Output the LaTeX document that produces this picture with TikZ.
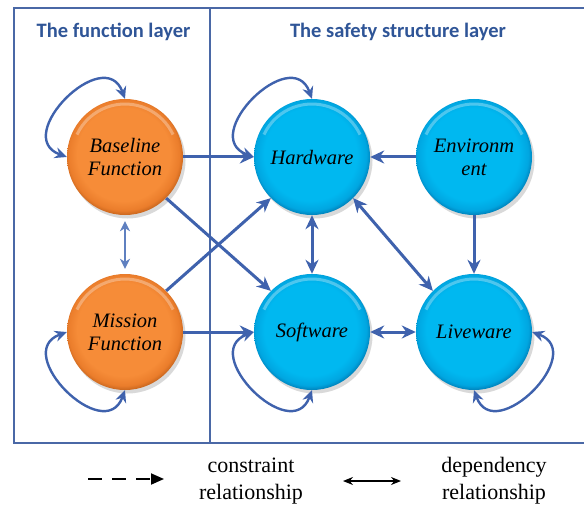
\documentclass[tikz,border=0pt]{standalone}
\usepackage{fontspec}
\setmainfont{Liberation Serif}
\newfontfamily\headfont{Carlito}
\newfontfamily\ballfont{Liberation Serif}[ItalicFont={Liberation Serif Italic}]
\usetikzlibrary{arrows.meta,shadows}

\definecolor{frameblue}{HTML}{4A68A6}
\definecolor{headblue}{HTML}{2F5597}
\definecolor{linkblue}{HTML}{3F62AD}
\definecolor{thinblue}{HTML}{5F80C0}

% button-like balls: flat face, bevelled rim, darker towards the lower right
\pgfdeclareradialshading{orangeball}{\pgfpoint{-1bp}{1.8bp}}{%
  rgb(0bp)=(0.965,0.55,0.22); rgb(20bp)=(0.965,0.55,0.22);
  rgb(24bp)=(0.92,0.49,0.17); rgb(26.5bp)=(0.74,0.37,0.10); rgb(50bp)=(0.74,0.37,0.10)}
\pgfdeclareradialshading{blueball}{\pgfpoint{-1bp}{1.8bp}}{%
  rgb(0bp)=(0.0,0.72,0.94); rgb(20bp)=(0.0,0.72,0.94);
  rgb(24bp)=(0.0,0.65,0.88); rgb(26.5bp)=(0.0,0.46,0.68); rgb(50bp)=(0.0,0.46,0.68)}

\begin{document}
\begin{tikzpicture}[x=1pt,y=-1pt,
  ball/.style={circle, minimum size=116pt, inner sep=0pt, align=center,
    font=\ballfont\itshape\fontsize{20.5}{23}\selectfont,
    drop shadow={shadow xshift=2.5pt, shadow yshift=-3.5pt, opacity=0.3},
    path picture={\draw[white, opacity=0.3, line width=3pt]
      ([shift={(155:53pt)}]path picture bounding box.center)
      arc[start angle=155, end angle=25, radius=53pt];}},
  func/.style={ball, shade, shading=orangeball},
  safe/.style={ball, shade, shading=blueball},
  tipbig/.tip={Stealth[length=14pt, width=13pt, inset=4.5pt]},
  tiploop/.tip={Stealth[length=12pt, width=11pt, inset=4pt]},
  link/.style={draw=linkblue, line width=3pt, -tipbig},
  dlink/.style={draw=linkblue, line width=3pt, tipbig-tipbig},
  thinlink/.style={draw=thinblue, line width=1.8pt,
    {Stealth[length=10pt, width=10pt, inset=3pt]}-{Stealth[length=10pt, width=10pt, inset=3pt]}},
  selfloop/.style={draw=linkblue, line width=2.4pt, tiploop-tiploop},
  frame/.style={draw=frameblue, line width=1.3pt},
  head/.style={font=\headfont\bfseries\fontsize{20.5}{24}\selectfont, text=headblue, anchor=base},
  legend/.style={font=\fontsize{22}{27}\selectfont, align=center}
]
\useasboundingbox (0,0) rectangle (584,508);

% layer frame, open on the right
\draw[frame] (584,8) -- (14,8) -- (14,443) -- (584,443);
\draw[frame] (210,8) -- (210,443);
\draw[draw=frameblue, line width=2.6pt] (210,191) -- (210,293);

\node[head] (hfun) at (113.5,38) {The function layer};
\node[head] (hsafe) at (398,38) {The safety structure layer};

% function layer
\node[func] (base) at (125,157) {Baseline\\Function};
\node[func] (mis)  at (125,332) {Mission\\Function};
% safety structure layer
\node[safe] (hw)  at (312,157) {Hardware};
\node[safe] (env) at (474,157) {Environm\\ent};
\node[safe] (sw)  at (312,332) {Software};
\node[safe] (lw)  at (474,332) {Liveware};

% links between layers
\draw[link] (base.east) -- (hw.west);
\draw[link] (mis.east) -- (sw.west);
\draw[link] (base.-45) -- (sw.135);
\draw[link] (mis.45) -- (hw.225);
\draw[thinlink, shorten <=6pt, shorten >=5pt] (base.south) -- (mis.north);

% links inside the safety structure
\draw[link] (env.west) -- (hw.east);
\draw[link] (env.south) -- (lw.north);
\draw[dlink] (hw.south) -- (sw.north);
\draw[dlink] (hw.-45) -- (lw.135);
\draw[dlink] (sw.east) -- (lw.west);

% self loops
\draw[selfloop] (base.west) .. controls +(-56,-20.5) and +(-20.5,-56) .. (base.north);
\draw[selfloop] (hw.west)   .. controls +(-56,-20.5) and +(-20.5,-56) .. (hw.north);
\draw[selfloop] (mis.west)  .. controls +(-56,20.5)  and +(-20.5,56)  .. (mis.south);
\draw[selfloop] (sw.west)   .. controls +(-56,20.5)  and +(-20.5,56)  .. (sw.south);
\draw[selfloop] (lw.east)   .. controls +(56,20.5)   and +(20.5,56)   .. (lw.south);

% legend
\coordinate (cstart) at (88,479);
\coordinate (cend) at (164,479);
\draw[black, line width=1.8pt, dash pattern=on 14pt off 10pt,
  -{Triangle[length=13pt, width=11pt]}] (cstart) -- (cend);
\node[legend] (ctext) at (251,481) {constraint\\relationship};

\coordinate (dstart) at (343,481);
\coordinate (dend) at (401,481);
\draw[black, line width=1.2pt,
  {Stealth[length=10pt, width=8pt]}-{Stealth[length=10pt, width=8pt]}] (dstart) -- (dend);
\node[legend] (dtext) at (494,481) {dependency\\relationship};
\end{tikzpicture}
\end{document}
